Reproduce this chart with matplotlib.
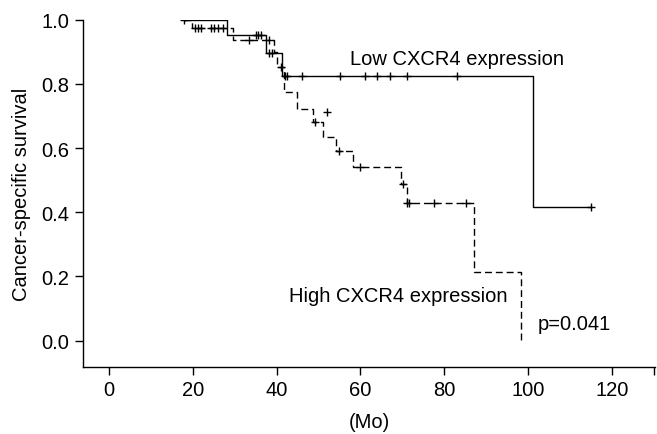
import matplotlib
matplotlib.use("Agg")
import matplotlib.pyplot as plt

# Low CXCR4 expression (solid)
low_t = [18, 28.2, 37.4, 41.2, 101.3, 115]
low_s = [1.0, 0.953, 0.895, 0.826, 0.4155, 0.4155]
low_cens_t = [18, 35.1, 35.6, 36.3, 38.2, 38.8, 42.0, 42.6, 46.0, 55.1, 61.1, 64.0, 67.1, 71.0, 83.1, 115]
low_cens_s = [1.0, 0.953, 0.953, 0.953, 0.895, 0.895, 0.826, 0.826, 0.826, 0.826, 0.826, 0.826, 0.826, 0.826, 0.826, 0.4155]

# High CXCR4 expression (dashed)
high_t = [18, 19.8, 29.7, 39.4, 40.0, 41.8, 44.9, 48.8, 51.1, 54.1, 58.2, 69.8, 71.0, 87.0, 98.3]
high_s = [1.0, 0.973, 0.938, 0.90, 0.852, 0.774, 0.722, 0.682, 0.634, 0.592, 0.540, 0.488, 0.429, 0.215, 0.0]
high_cens_t = [20.5, 21.2, 22.0, 24.3, 25.1, 26.0, 27.1, 33.3, 38.3, 41.0, 49.2, 52.0, 55.0, 59.9, 70.2, 71.2, 71.7, 77.6, 85.3]
high_cens_s = [0.973, 0.973, 0.973, 0.973, 0.973, 0.973, 0.973, 0.938, 0.938, 0.852, 0.682, 0.711, 0.592, 0.540, 0.488, 0.429, 0.429, 0.429, 0.429]

x_ticks = [0, 20, 40, 60, 80, 100, 120]
y_ticks = [0.0, 0.2, 0.4, 0.6, 0.8, 1.0]

plt.rcParams['font.family'] = ['Liberation Sans', 'DejaVu Sans']
FS = 14.5

fig = plt.figure(figsize=(6.57, 4.35), dpi=100)
ax = fig.add_axes([83/657, 1 - 368/435, (655 - 83)/657, (368 - 20.7)/435])

ax.step(low_t, low_s, where='post', color='black', lw=1.0)
ax.step(high_t, high_s, where='post', color='black', lw=1.0, linestyle=(0, (5, 2.8)))
ax.plot(low_cens_t, low_cens_s, linestyle='none', marker='+', color='black', ms=6, mew=1.0)
ax.plot(high_cens_t, high_cens_s, linestyle='none', marker='+', color='black', ms=6, mew=1.0)

ax.set_xlim(-6.2, 130.3)
ax.set_ylim(-0.082, 1.0)
ax.set_xticks(x_ticks + [130])
ax.set_xticklabels([str(v) for v in x_ticks] + [''])
ax.set_yticks(y_ticks)
ax.set_yticklabels([f"{v:.1f}" for v in y_ticks])
ax.tick_params(direction='out', length=5.5, width=1.0, labelsize=FS, colors='black')
ax.tick_params(axis='y', pad=4.5)
ax.tick_params(axis='x', pad=4)

for s in ['top', 'right']:
    ax.spines[s].set_visible(False)
for s in ['left', 'bottom']:
    ax.spines[s].set_linewidth(1.0)

ax.set_xlabel('(Mo)', fontsize=FS, labelpad=9)
ax.set_ylabel('Cancer-specific survival', fontsize=FS, labelpad=7)

ax.text(57.5, 0.862, 'Low CXCR4 expression', fontsize=FS, ha='left', va='baseline')
ax.text(95.2, 0.125, 'High CXCR4 expression', fontsize=FS, ha='right', va='baseline')
ax.text(102.4, 0.036, 'p=0.041', fontsize=FS, ha='left', va='baseline')

fig.savefig('out.png', dpi=100)
